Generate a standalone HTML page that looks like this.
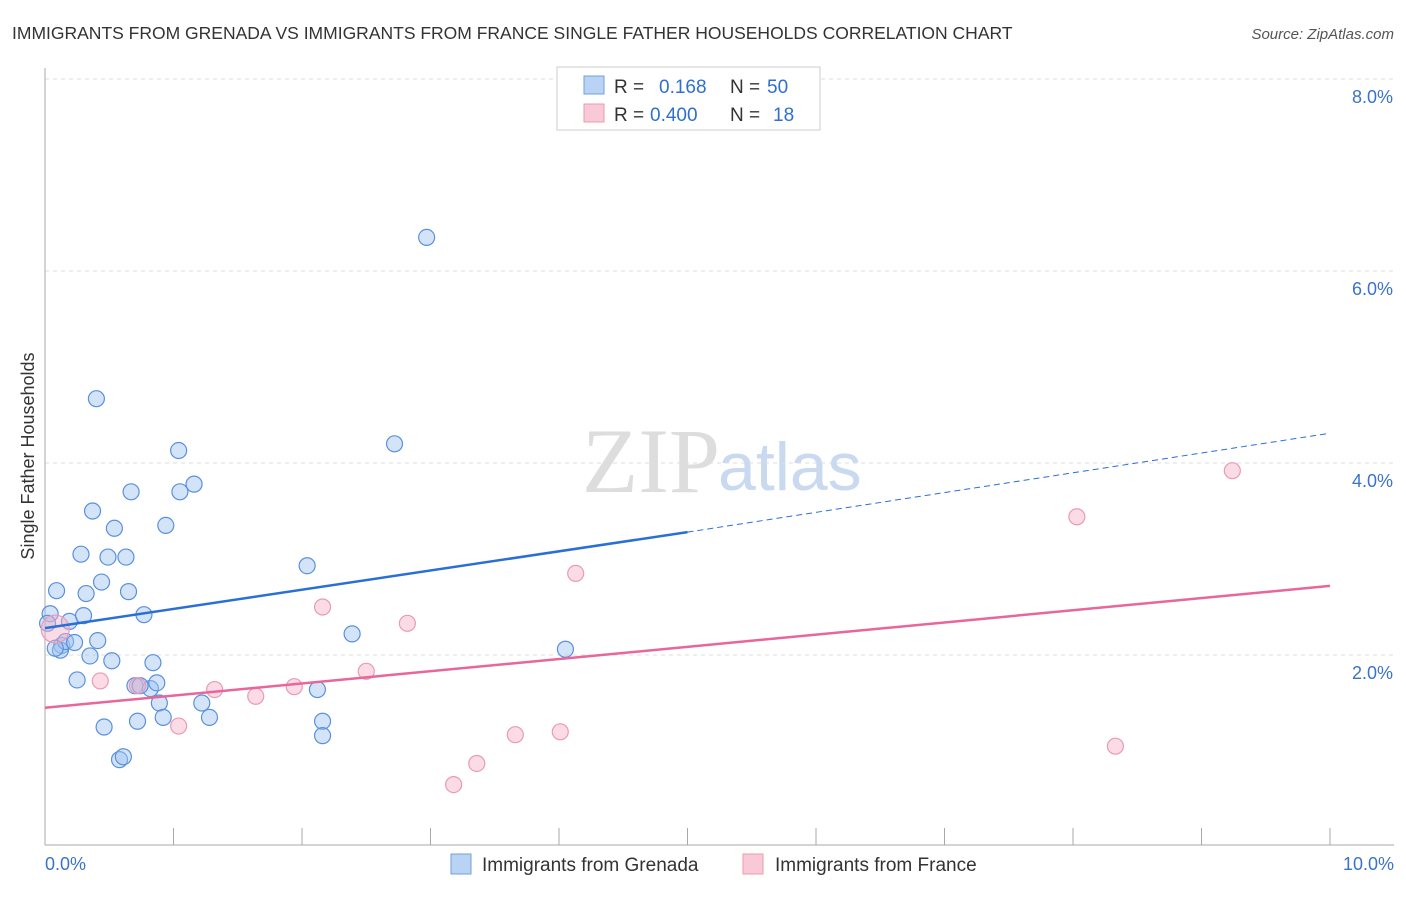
<!DOCTYPE html>
<html><head><meta charset="utf-8"><style>
body{margin:0;background:#fff;font-family:"Liberation Sans",sans-serif;}
</style></head><body>
<svg width="1406" height="892" xmlns="http://www.w3.org/2000/svg">
<text x="12" y="39" font-size="17.5" fill="#333">IMMIGRANTS FROM GRENADA VS IMMIGRANTS FROM FRANCE SINGLE FATHER HOUSEHOLDS CORRELATION CHART</text>
<text x="1394" y="39" font-size="15" fill="#555" font-style="italic" text-anchor="end">Source: ZipAtlas.com</text>
<text x="720" y="492" font-size="92" fill="#ddd" text-anchor="end" font-family="Liberation Serif,serif">ZIP</text>
<text x="718" y="490" font-size="68" fill="#c9daf0">atlas</text>
<g id="grid"></g><g id="axes"></g><g id="marks"></g>
<text transform="translate(34,456) rotate(-90)" font-size="18" fill="#333" text-anchor="middle">Single Father Households</text>
<text x="45" y="870" font-size="18" fill="#3b73c9">0.0%</text>
<text x="1394" y="870" font-size="18" fill="#3b73c9" text-anchor="end">10.0%</text>
<g>
<rect x="557" y="67" width="263" height="63" fill="#fff" stroke="#ccc"/>
<rect x="584" y="76" width="20" height="18" fill="#b9d3f5" stroke="#6fa0e0"/>
<rect x="584" y="104" width="20" height="18" fill="#f9c9d8" stroke="#e99ab4"/>
<text x="614" y="93" font-size="19" fill="#333">R = <tspan fill="#2f6fd1" x="659">0.168</tspan><tspan x="730" fill="#333">N = </tspan><tspan fill="#2f6fd1" x="767">50</tspan></text>
<text x="614" y="121" font-size="19" fill="#333">R = <tspan fill="#2f6fd1" x="650">0.400</tspan><tspan x="730" fill="#333">N = </tspan><tspan fill="#2f6fd1" x="773">18</tspan></text>
</g>
<g>
<rect x="451" y="854" width="20" height="20" fill="#b9d3f5" stroke="#6fa0e0"/>
<text x="482" y="871" font-size="19" fill="#333">Immigrants from Grenada</text>
<rect x="743" y="854" width="20" height="20" fill="#f9c9d8" stroke="#e99ab4"/>
<text x="775" y="871" font-size="19" fill="#333">Immigrants from France</text>
</g>
</svg>
<script>
const yTicks=[2,4,6,8];
const yTickLabels=["2.0%","4.0%","6.0%","8.0%"];
const blueX=[0.04,0.09,0.02,0.13,0.12,0.16,0.19,0.23,0.25,0.28,0.30,0.32,0.35,0.37,0.40,0.41,0.44,0.46,0.49,0.52,0.54,0.58,0.61,0.63,0.65,0.67,0.70,0.72,0.77,0.82,0.84,0.87,0.89,0.92,0.94,1.04,1.05,1.16,1.22,1.28,2.04,2.12,2.16,2.16,2.39,2.72,2.97,4.05,0.08,0.74];
const blueY=[2.43,2.67,2.33,2.10,2.05,2.14,2.35,2.13,1.74,3.05,2.41,2.64,1.99,3.50,4.67,2.15,2.76,1.25,3.02,1.94,3.32,0.91,0.94,3.02,2.66,3.70,1.68,1.31,2.42,1.65,1.92,1.71,1.50,1.35,3.35,4.13,3.70,3.78,1.50,1.35,2.93,1.64,1.31,1.16,2.22,4.20,6.35,2.06,2.07,1.68];
const pinkX=[0.08,0.43,0.72,1.04,1.32,1.64,1.94,2.16,2.50,2.82,3.18,3.36,3.66,4.13,4.01,8.03,8.33,9.24];
const pinkY=[2.27,1.73,1.68,1.26,1.64,1.57,1.67,2.50,1.83,2.33,0.65,0.87,1.17,2.85,1.20,3.44,1.05,3.92];
const blueTrend=[[0,2.28],[5,3.28],[10,4.31]];
const pinkTrend=[[0,1.45],[10,2.72]];
const xs=v=>45+v*128.5, ys=v=>847-v*96;
const NS="http://www.w3.org/2000/svg";
function mk(tag,attrs,parent){const e=document.createElementNS(NS,tag);for(const k in attrs)e.setAttribute(k,attrs[k]);document.getElementById(parent).appendChild(e);return e;}
yTicks.forEach((t,i)=>{
 const g=mk('line',{x1:45,x2:1394,y1:ys(t),y2:ys(t),stroke:'#ddd','stroke-dasharray':'4,4'},'grid');
 
 
 const l=mk('text',{x:1393,y:ys(t)+24,'font-size':18,fill:'#3b73c9','text-anchor':'end'},'grid');
 l.textContent=yTickLabels[i];
 
 
});
const ax=mk('line',{x1:45,x2:45,y1:68,y2:845,stroke:'#aaa'},'axes');


const bx=mk('line',{x1:45,x2:1394,y1:845,y2:845,stroke:'#aaa'},'axes');


for(let i=0;i<=10;i++){const t=mk('line',{x1:xs(i),x2:xs(i),y1:828,y2:845,stroke:'#aaa'},'axes');
 
 }
blueX.forEach((x,i)=>{const c=mk('circle',{cx:xs(x),cy:ys(blueY[i]),r:8,fill:'rgba(160,195,240,0.45)',stroke:'#5a90dd','stroke-width':1.2},'marks');
 
 });
pinkX.forEach((x,i)=>{const c=mk('circle',{cx:xs(x),cy:ys(pinkY[i]),r:i==0?14:8,fill:'rgba(245,175,200,0.45)',stroke:'#ea9ab6','stroke-width':1.2},'marks');
 
 });
const b1=mk('line',{x1:xs(blueTrend[0][0]),y1:ys(blueTrend[0][1]),x2:xs(blueTrend[1][0]),y2:ys(blueTrend[1][1]),stroke:'#2a6fd6','stroke-width':2.5},'marks');


const b2=mk('line',{x1:xs(blueTrend[1][0]),y1:ys(blueTrend[1][1]),x2:xs(blueTrend[2][0]),y2:ys(blueTrend[2][1]),stroke:'#2a6fd6','stroke-width':1,'stroke-dasharray':'6,4'},'marks');


const p1=mk('line',{x1:xs(pinkTrend[0][0]),y1:ys(pinkTrend[0][1]),x2:xs(pinkTrend[1][0]),y2:ys(pinkTrend[1][1]),stroke:'#e8669a','stroke-width':2.5},'marks');


</script>
</body></html>
